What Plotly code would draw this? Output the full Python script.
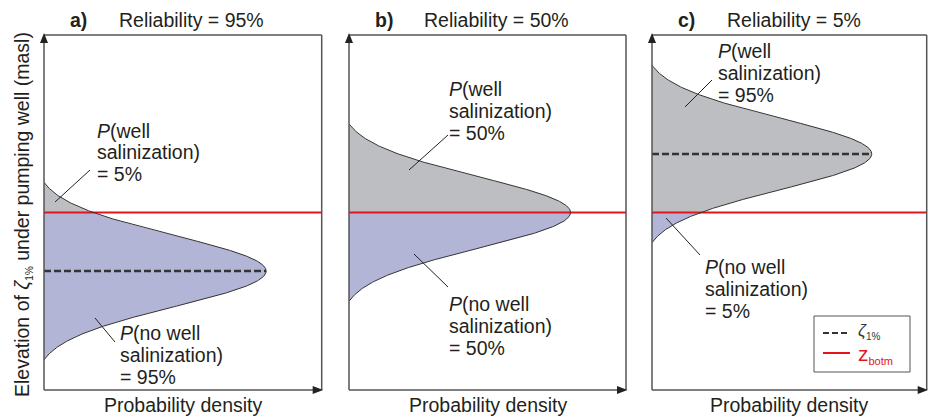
import numpy as np
import plotly.graph_objects as go

# ---------------- data ----------------
panel_labels = ["a)", "b)", "c)"]
reliability = [95, 50, 5]              # %  (P(no well salinization))
salinization = [5, 50, 95]             # %  (P(well salinization))
mean_zeta = [33.5, 50.0, 66.5]         # mean elevation of zeta_1% (axis units 0-100)
sigma_zeta = 10.0                      # std of zeta_1% (axis units)
trunc_sigma = 2.5                      # curve drawn over +/- 2.5 sigma
z_botm = 50.0                          # elevation of well bottom (axis units)
peak_density = 1.0                     # normalised peak density
density_max = 1.25                     # x-axis range (density)
elev_max = 100.0                       # y-axis range (elevation)

# ---------------- layout geometry (pixels) ----------------
W, H = 928, 419
lefts = [44, 349, 652]
rights = [321.7, 626, 926.7]
top_px, bot_px = 35, 390

FONT = "Liberation Sans, Arial, sans-serif"
FS = 19.5
TXT = "#231f20"
AX = "#555555"
GRAY = "#bdbec1"
LAV = "#b3b5d7"
RED = "#e3141c"


def px(x):
    return x / W


def py(y):
    return 1 - y / H


fig = go.Figure()
c_end = np.exp(-0.5 * trunc_sigma ** 2)

for i in range(3):
    xa = "x" if i == 0 else f"x{i+1}"
    ya = "y" if i == 0 else f"y{i+1}"
    m = mean_zeta[i]
    yy = np.linspace(m - trunc_sigma * sigma_zeta, m + trunc_sigma * sigma_zeta, 401)
    dens = lambda v: peak_density * (np.exp(-0.5 * ((v - m) / sigma_zeta) ** 2) - c_end) / (1 - c_end)
    dd = dens(yy)

    # upper (well salinization) region
    up = yy[yy > z_botm]
    xu = [0, float(dens(z_botm))] + list(dens(up)) + [0]
    yu = [z_botm, z_botm] + list(up) + [up[-1] if len(up) else z_botm]
    fig.add_trace(go.Scatter(x=xu, y=yu, fill="toself", fillcolor=GRAY, mode="none",
                             xaxis=xa, yaxis=ya, showlegend=False, hoverinfo="skip"))
    lo = yy[yy < z_botm]
    xl = [0] + list(dens(lo)) + [float(dens(z_botm)), 0]
    yl = [lo[0]] + list(lo) + [z_botm, z_botm]
    fig.add_trace(go.Scatter(x=xl, y=yl, fill="toself", fillcolor=LAV, mode="none",
                             xaxis=xa, yaxis=ya, showlegend=False, hoverinfo="skip"))
    # red line (z_botm)
    fig.add_trace(go.Scatter(x=[0, density_max], y=[z_botm, z_botm], mode="lines",
                             line=dict(color=RED, width=2), xaxis=xa, yaxis=ya,
                             showlegend=False, hoverinfo="skip"))
    # dashed mean line
    if abs(m - z_botm) > 1e-6:
        fig.add_trace(go.Scatter(x=[0, peak_density], y=[m, m], mode="lines",
                                 line=dict(color="#333333", width=2.5, dash="7px,3px"),
                                 xaxis=xa, yaxis=ya, showlegend=False, hoverinfo="skip"))
    # outline
    fig.add_trace(go.Scatter(x=dd, y=yy, mode="lines", line=dict(color="#333333", width=1),
                             xaxis=xa, yaxis=ya, showlegend=False, hoverinfo="skip"))

# axes
axis_common = dict(showgrid=False, zeroline=False, showticklabels=False, ticks="",
                   showline=False, fixedrange=True)
layout = dict(width=W, height=H, margin=dict(l=0, r=0, t=0, b=0),
              paper_bgcolor="white", plot_bgcolor="rgba(0,0,0,0)", showlegend=False)
for i in range(3):
    sx = "" if i == 0 else str(i + 1)
    layout["xaxis" + sx] = dict(domain=[px(lefts[i]), px(rights[i])], range=[0, density_max],
                                anchor="y" + sx, **axis_common)
    layout["yaxis" + sx] = dict(domain=[py(bot_px), py(top_px)], range=[0, elev_max],
                                anchor="x" + sx, **axis_common)
fig.update_layout(**layout)

shapes = []
annotations = []
for i in range(3):
    L, R = lefts[i], rights[i]
    # frame: top and right thin, left and bottom axes
    shapes.append(dict(type="line", xref="paper", yref="paper", x0=px(L), x1=px(R),
                       y0=py(top_px), y1=py(top_px), line=dict(color=AX, width=1.5)))
    shapes.append(dict(type="line", xref="paper", yref="paper", x0=px(R), x1=px(R),
                       y0=py(top_px), y1=py(bot_px), line=dict(color=AX, width=1.5)))
    shapes.append(dict(type="line", xref="paper", yref="paper", x0=px(L), x1=px(L),
                       y0=py(bot_px), y1=py(top_px + 6), line=dict(color=AX, width=1.5)))
    shapes.append(dict(type="line", xref="paper", yref="paper", x0=px(L), x1=px(R - 6),
                       y0=py(bot_px), y1=py(bot_px), line=dict(color=AX, width=1.5)))
    # arrow heads
    shapes.append(dict(type="path", xref="paper", yref="paper", xsizemode="pixel",
                       ysizemode="pixel", xanchor=px(L), yanchor=py(top_px),
                       path="M -4 -8 L 4 -8 L 0 2 Z", fillcolor="#222", line=dict(width=0)))
    shapes.append(dict(type="path", xref="paper", yref="paper", xsizemode="pixel",
                       ysizemode="pixel", xanchor=px(R), yanchor=py(bot_px),
                       path="M -9 4 L -9 -4 L 1.5 0 Z", fillcolor="#222", line=dict(width=0)))

    # titles
    annotations.append(dict(xref="paper", yref="paper", x=px(L + 24), y=py(20), xanchor="left",
                            yanchor="middle", showarrow=False, text="<b>" + panel_labels[i] + "</b>",
                            font=dict(family=FONT, size=FS, color=TXT)))
    annotations.append(dict(xref="paper", yref="paper", x=px(L + 73), y=py(20), xanchor="left",
                            yanchor="middle", showarrow=False,
                            text=f"Reliability = {reliability[i]}%",
                            font=dict(family=FONT, size=FS, color=TXT)))
    annotations.append(dict(xref="paper", yref="paper", x=px((L + R) / 2), y=py(405),
                            xanchor="center", yanchor="middle", showarrow=False,
                            text="Probability density",
                            font=dict(family=FONT, size=FS, color=TXT)))

# callout text blocks: (left px, line-centre y px list, lines)
callouts = [
    (97, [131, 152.5, 174], ["<i>P</i>(well", "salinization)", f"= {salinization[0]}%"]),
    (120, [333, 355, 377], ["<i>P</i>(no well", "salinization)", f"= {reliability[0]}%"]),
    (449, [89, 111, 133], ["<i>P</i>(well", "salinization)", f"= {salinization[1]}%"]),
    (449, [304, 326, 348], ["<i>P</i>(no well", "salinization)", f"= {reliability[1]}%"]),
    (718, [51, 73, 95], ["<i>P</i>(well", "salinization)", f"= {salinization[2]}%"]),
    (705, [267, 289, 311], ["<i>P</i>(no well", "salinization)", f"= {reliability[2]}%"]),
]
for xl, ys, lines in callouts:
    for yv, t in zip(ys, lines):
        annotations.append(dict(xref="paper", yref="paper", x=px(xl - 2), y=py(yv),
                                xanchor="left", yanchor="middle", showarrow=False, text=t,
                                font=dict(family=FONT, size=FS, color=TXT)))

# leader lines (pixel positions)
leaders = [(55, 202, 90, 170), (95, 318, 115, 342), (409, 170, 448, 135),
           (414, 254, 448, 287), (685, 107, 712, 80), (666, 218, 700, 255)]
for x0, y0, x1, y1 in leaders:
    shapes.append(dict(type="line", xref="paper", yref="paper", x0=px(x0), y0=py(y0),
                       x1=px(x1), y1=py(y1), line=dict(color="#222", width=1)))

# y-axis title
annotations.append(dict(xref="paper", yref="paper", x=px(23), y=py(215), xanchor="center",
                        yanchor="middle", showarrow=False, textangle=-90,
                        text="Elevation of <i>ζ</i><sub><span style='font-size:10px'>1%</span></sub> under pumping well (masl)",
                        font=dict(family=FONT, size=FS, color=TXT)))

# legend box
shapes.append(dict(type="rect", xref="paper", yref="paper", x0=px(814), x1=px(910),
                   y0=py(316), y1=py(372), line=dict(color=AX, width=1), fillcolor="white"))
shapes.append(dict(type="line", xref="paper", yref="paper", x0=px(823), x1=px(850),
                   y0=py(333), y1=py(333), line=dict(color="#333", width=2, dash="6px,3px")))
shapes.append(dict(type="line", xref="paper", yref="paper", x0=px(823), x1=px(850),
                   y0=py(353), y1=py(353), line=dict(color=RED, width=2)))
annotations.append(dict(xref="paper", yref="paper", x=px(857), y=py(331), xanchor="left",
                        yanchor="middle", showarrow=False, borderpad=0,
                        text="<i>ζ</i><sub><span style='font-size:10px'>1%</span></sub>",
                        font=dict(family=FONT, size=17, color="#333")))
annotations.append(dict(xref="paper", yref="paper", x=px(857), y=py(354), xanchor="left",
                        yanchor="middle", showarrow=False, borderpad=0,
                        text="z<sub><span style='font-size:11px'>botm</span></sub>",
                        font=dict(family=FONT, size=21, color=RED)))

fig.update_layout(shapes=shapes, annotations=annotations)
fig.write_html("out.html")
